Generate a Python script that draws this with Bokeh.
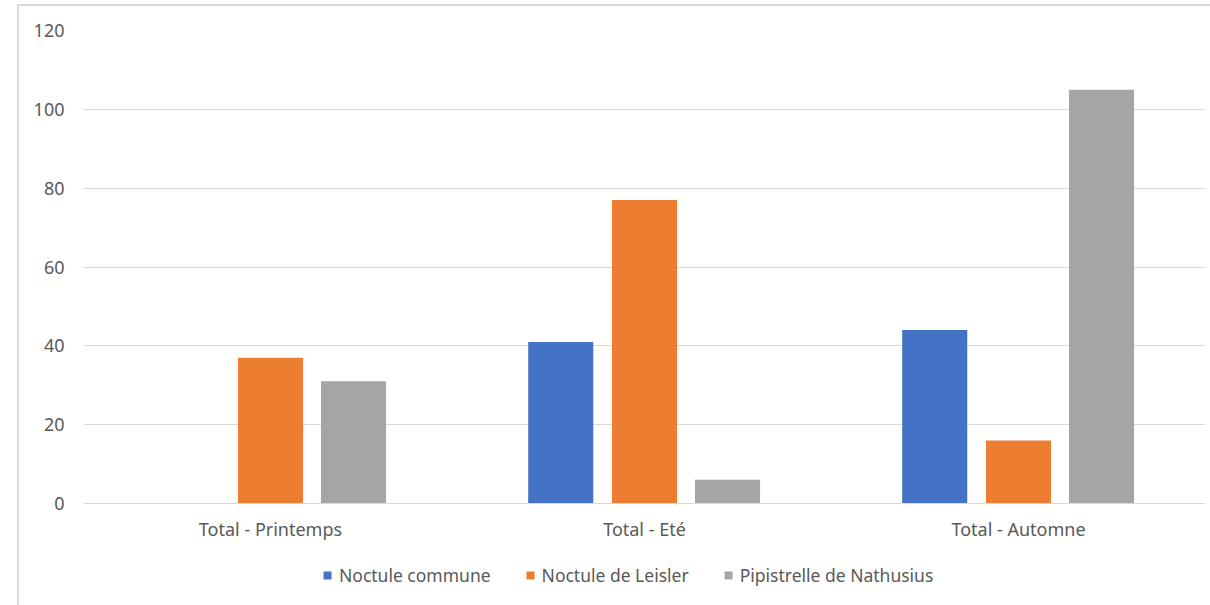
from bokeh.plotting import figure
from bokeh.models import (ColumnDataSource, FactorRange, Range1d, FixedTicker,
                          Legend, LegendItem)
from bokeh.transform import dodge
from bokeh.embed import file_html
from bokeh.resources import INLINE

categories = ["Total - Printemps", "Total - Eté", "Total - Automne"]
series_names = ["Noctule commune", "Noctule de Leisler", "Pipistrelle de Nathusius"]
noctule_commune = [0, 41, 44]
noctule_leisler = [37, 77, 16]
pipistrelle_nathusius = [31, 6, 105]
colors = ["#4472C4", "#ED7D31", "#A5A5A5"]
y_ticks = [0, 20, 40, 60, 80, 100, 120]

FONT = "Noto Sans"
TXT = "#595959"
GRID = "#D9D9D9"

source = ColumnDataSource(data=dict(cat=categories, s0=noctule_commune,
                                    s1=noctule_leisler, s2=pipistrelle_nathusius))

# frame spans y=30..598 px; 0 at 503 px -> lower bound extends below zero for labels/legend
p = figure(width=1210, height=605, x_range=FactorRange(factors=categories),
           y_range=Range1d(-24.1, 120), output_backend="svg", toolbar_location=None,
           min_border_left=83, min_border_right=5, min_border_top=30, min_border_bottom=7)
p.outline_line_color = None
p.border_fill_alpha = 0
p.styles = {"background": "linear-gradient(#D9D9D9,#D9D9D9) 17px 4px / 2px 100% no-repeat, "
                          "linear-gradient(#D9D9D9,#D9D9D9) 17px 4px / 100% 2px no-repeat, white"}

offsets = [-0.224, 0.0, 0.222]
renderers = []
for key, off, col in zip(["s0", "s1", "s2"], offsets, colors):
    r = p.vbar(x=dodge("cat", off, range=p.x_range), top=key, width=0.174,
               source=source, fill_color=col, line_color=None)
    renderers.append(r)

p.yaxis.ticker = FixedTicker(ticks=y_ticks)
p.yaxis.axis_line_color = None
p.yaxis.major_tick_line_color = None
p.yaxis.major_tick_out = 0
p.yaxis.major_tick_in = 0
p.yaxis.minor_tick_line_color = None
p.yaxis.major_label_text_font = FONT
p.yaxis.major_label_text_font_size = "18px"
p.yaxis.major_label_text_color = TXT
p.yaxis.major_label_standoff = 19

p.xaxis.fixed_location = 0
p.xaxis.axis_line_color = GRID
p.xaxis.axis_line_width = 1
p.xaxis.major_tick_line_color = None
p.xaxis.major_tick_out = 0
p.xaxis.major_tick_in = 0
p.xaxis.minor_tick_line_color = None
p.xaxis.major_label_text_font = FONT
p.xaxis.major_label_text_font_size = "18px"
p.xaxis.major_label_text_color = TXT
p.xaxis.major_label_standoff = 13

p.xgrid.grid_line_color = None
p.ygrid.grid_line_color = GRID
p.ygrid.grid_line_width = 1
p.ygrid.ticker = FixedTicker(ticks=y_ticks)

legend = Legend(items=[LegendItem(label=n, renderers=[r]) for n, r in zip(series_names, renderers)],
                orientation="horizontal", location=(239, 11),
                label_text_font=FONT, label_text_font_size="17.5px", label_text_color=TXT,
                glyph_width=10, glyph_height=10, spacing=34, label_standoff=7,
                border_line_color=None, background_fill_alpha=0, margin=0, padding=4)
p.add_layout(legend, "center")

open("out.html", "w").write(file_html(p, INLINE))
